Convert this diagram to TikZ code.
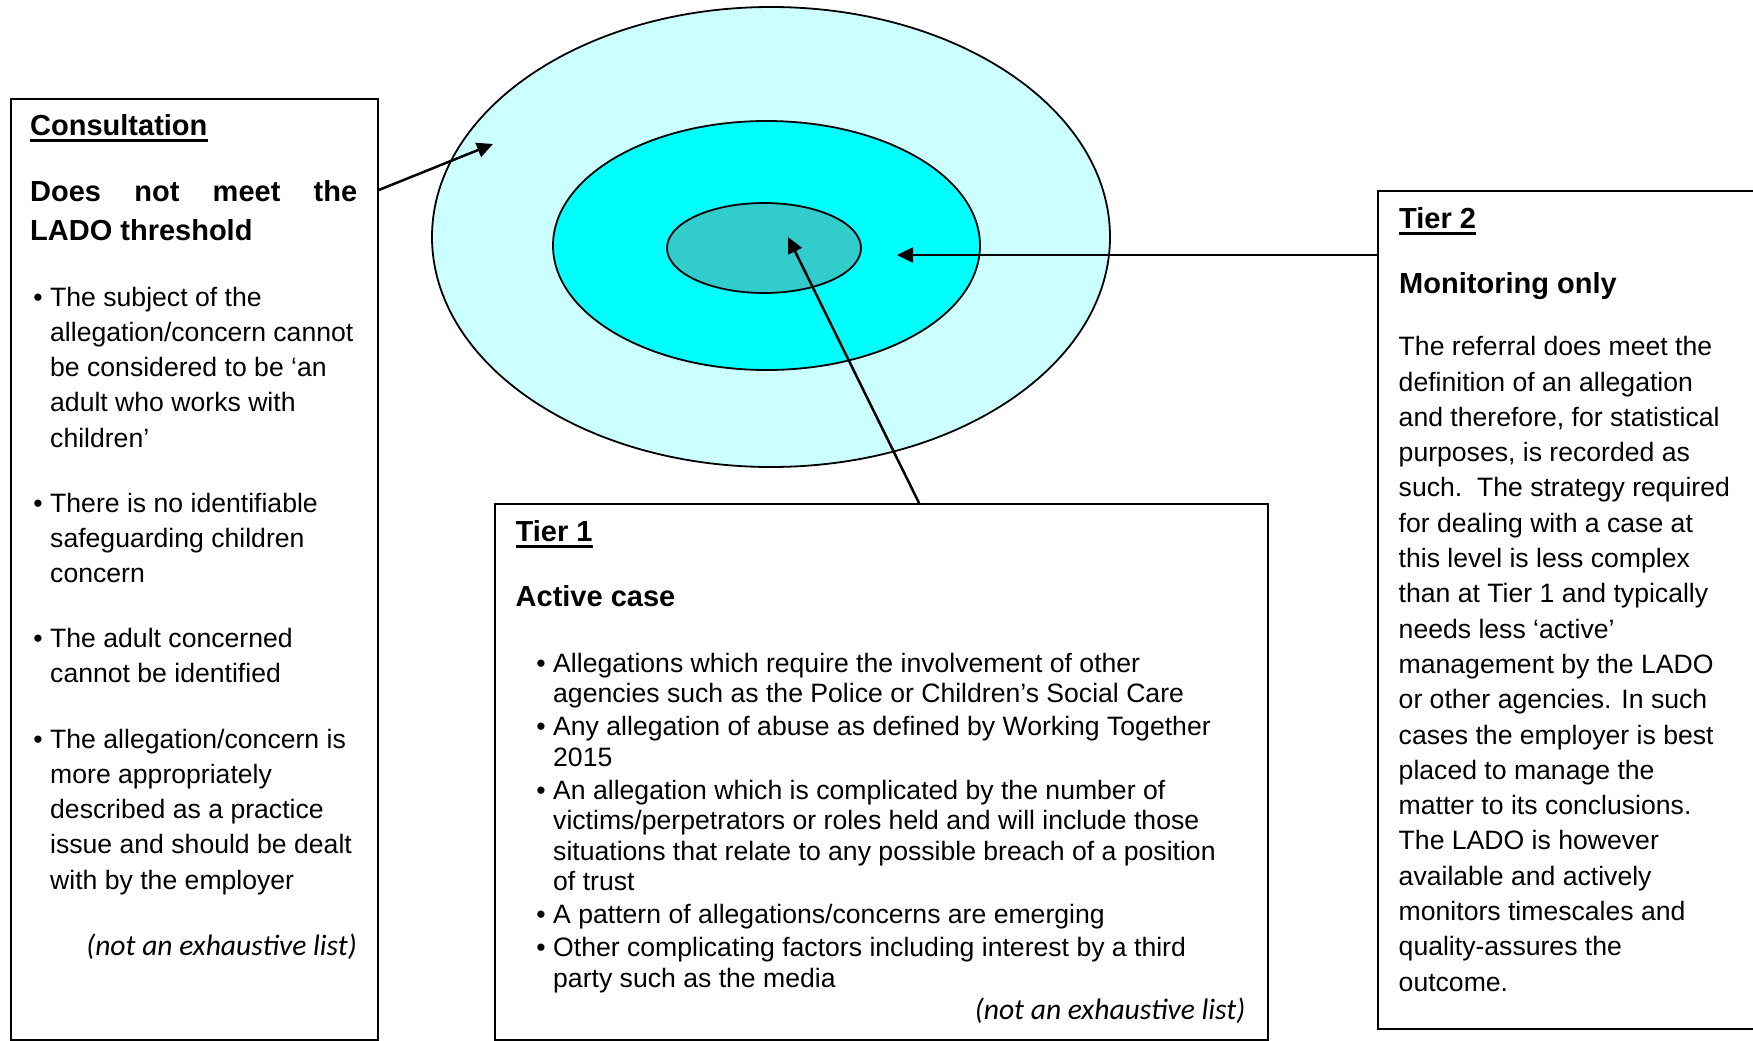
\documentclass[tikz,border=0pt]{standalone}
\usepackage{fontspec}
\setmainfont{Liberation Sans}
\newfontfamily\calibrifont{Carlito}
\usetikzlibrary{shapes.geometric,arrows.meta}
\definecolor{outerc}{HTML}{CCFFFF}
\definecolor{midc}{HTML}{00FFFF}
\definecolor{innerc}{HTML}{33CCCC}
\begin{document}
\begin{tikzpicture}[x=1pt,y=-1pt,
  box/.style={draw, line width=1.8pt, inner sep=0pt, anchor=north west},
  ring/.style={ellipse, draw, line width=1.8pt, inner sep=0pt},
  txt/.style={anchor=base west, inner sep=0pt, font=\fontsize{26.6}{32}\selectfont},
  head/.style={anchor=base west, inner sep=0pt, font=\fontsize{29}{35}\selectfont\bfseries},
  note/.style={anchor=base east, inner sep=0pt, font=\calibrifont\itshape\fontsize{29.6}{35}\selectfont},
  bul/.style={anchor=base, inner sep=0pt, font=\fontsize{26.6}{32}\selectfont},
  uline/.style={line width=2.5pt},
  conn/.style={line width=2.5pt, -{Triangle[length=16pt,width=15pt]}},
]
\useasboundingbox (0,0) rectangle (1753,1041);

% target rings
\node[ring, fill=outerc, minimum width=678pt, minimum height=460pt] (outer) at (771,237) {};
\node[ring, fill=midc, minimum width=427pt, minimum height=249pt] (mid) at (766.5,245.5) {};
\node[ring, fill=innerc, minimum width=194pt, minimum height=90pt] (inner) at (764,248) {};

% boxes
\node[box, minimum width=367pt, minimum height=941pt] (cons) at (10,98) {};
\node[box, minimum width=773pt, minimum height=536pt] (t1) at (494,503) {};
\node[box, minimum width=400pt, minimum height=838pt] (t2) at (1377,190) {};

% connectors
\coordinate (p1) at (493,144);
\coordinate (p2) at (897,255);
\coordinate (p3) at (788,237);
\draw[conn] ([yshift=-92pt]cons.north east) -- (p1);
\draw[conn] ([yshift=-65pt]t2.north west) -- (p2);
\draw[conn] ([xshift=425pt]t1.north west) -- (p3);

% ---- Consultation box
\node[head] (c1) at (30,135.7) {Consultation};
\draw[uline] ([yshift=-5pt]c1.base west) -- ([yshift=-5pt]c1.base east);
\node[head] (c2) at (30,201.7) {\hbox to 327pt{Does\hfill not\hfill meet\hfill the}};
\node[head] (c3) at (30,240.7) {LADO threshold};
\foreach \y in {306,512,647.5,748}
  \node[bul] (cb\y) at (38,\y) {•};
\foreach \y/\t [count=\i] in {
  306/{The subject of the},
  341.3/{allegation/concern cannot},
  376.6/{be considered to be ‘an},
  411.9/{adult who works with},
  447.2/{children’},
  512/{There is no identifiable},
  547.3/{safeguarding children},
  582.6/{concern},
  647.5/{The adult concerned},
  682.8/{cannot be identified},
  748/{The allegation/concern is},
  783.3/{more appropriately},
  818.6/{described as a practice},
  853.9/{issue and should be dealt},
  889.2/{with by the employer}}
  \node[txt] (cl\i) at (50,\y) {\t};
\node[note] (cn) at (357,955) {(not an exhaustive list)};

% ---- Tier 1 box
\node[head] (a1) at (515.5,541.5) {Tier 1};
\draw[uline] ([yshift=-5pt]a1.base west) -- ([yshift=-5pt]a1.base east);
\node[head] (a2) at (515.5,606.5) {Active case};
\foreach \y in {672,735.5,799,923.5,956.5}
  \node[bul] (ab\y) at (541,\y) {•};
\foreach \y/\t [count=\i] in {
  672/{Allegations which require the involvement of other},
  702.5/{agencies such as the Police or Children’s Social Care},
  735.5/{Any allegation of abuse as defined by Working Together},
  766/{2015},
  799/{An allegation which is complicated by the number of},
  829.5/{victims/perpetrators or roles held and will include those},
  860/{situations that relate to any possible breach of a position},
  890.5/{of trust},
  923.5/{A pattern of allegations/concerns are emerging},
  956.5/{Other complicating factors including interest by a third},
  987/{party such as the media}}
  \node[txt] (al\i) at (553,\y) {\t};
\node[note] (an) at (1245.5,1019) {(not an exhaustive list)};

% ---- Tier 2 box
\node[head] (b1) at (1399,228.3) {Tier 2};
\draw[uline] ([yshift=-5pt]b1.base west) -- ([yshift=-5pt]b1.base east);
\node[head] (b2) at (1399,293) {Monitoring only};
\foreach \t [count=\i] in {
  {The referral does meet the},
  {definition of an allegation},
  {and therefore, for statistical},
  {purposes, is recorded as},
  {such.\ \ The strategy required},
  {for dealing with a case at},
  {this level is less complex},
  {than at Tier 1 and typically},
  {needs less ‘active’},
  {management by the LADO},
  {or other agencies. In such},
  {cases the employer is best},
  {placed to manage the},
  {matter to its conclusions.},
  {The LADO is however},
  {available and actively},
  {monitors timescales and},
  {quality-assures the},
  {outcome.}}
  \node[txt] (bl\i) at (1398.5,{355.7+(\i-1)*35.3}) {\t};
\end{tikzpicture}
\end{document}
